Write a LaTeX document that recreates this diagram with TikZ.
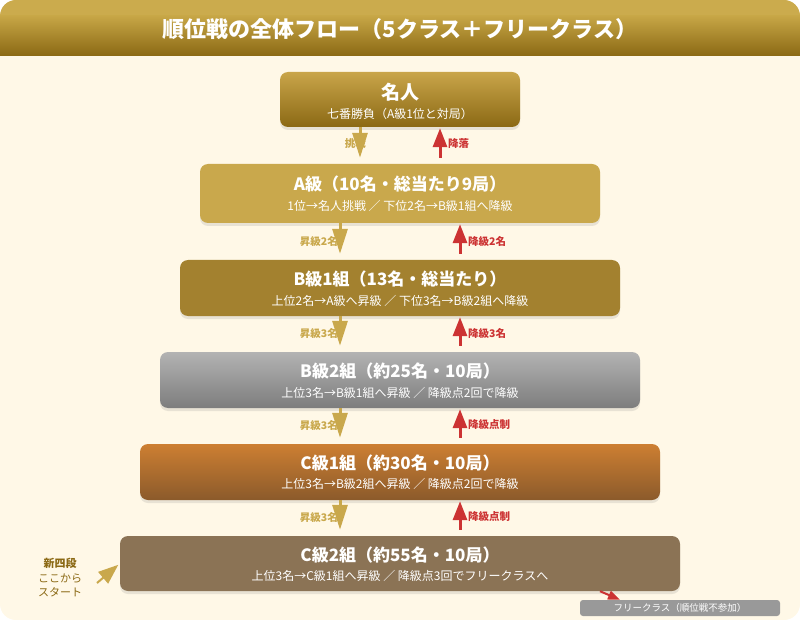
\documentclass[tikz,border=0pt]{standalone}
\usepackage{fontspec}
\setmainfont{Noto Sans CJK JP}
\usetikzlibrary{arrows.meta,shadows}

\definecolor{cream}{HTML}{FFF8E7}
\definecolor{gold}{HTML}{C9A84C}
\definecolor{darkgold}{HTML}{8B6914}
\definecolor{bgold}{HTML}{A3812F}
\definecolor{copper}{HTML}{CD7F32}
\definecolor{saddle}{HTML}{8B5A2B}
\definecolor{cbrown}{HTML}{8B7355}
\definecolor{redarr}{HTML}{CC3333}
\definecolor{freegrey}{HTML}{999999}

\tikzset{
  classbox/.style={rounded corners=8pt, minimum height=56pt, inner sep=0pt,
    drop shadow={opacity=0.18, shadow xshift=0pt, shadow yshift=-3pt}},
  ttl/.style={text=white, inner sep=0pt, font=\fontsize{17}{20}\selectfont\bfseries},
  sub/.style={text=white, inner sep=0pt, font=\fontsize{12}{14}\selectfont},
  promarr/.style={draw=gold, line width=3pt, shorten >=6pt,
    -{Triangle[width=15pt,length=25pt]}},
  demarr/.style={draw=redarr, line width=3pt, shorten <=6pt, shorten >=1pt,
    -{Triangle[width=14pt,length=19pt]}},
  promlbl/.style={text=gold, anchor=east, inner sep=0pt, font=\fontsize{10.5}{12}\selectfont\bfseries},
  demlbl/.style={text=redarr, anchor=west, inner sep=0pt, font=\fontsize{10.5}{12}\selectfont\bfseries}
}

\begin{document}
\begin{tikzpicture}[x=1pt,y=-1pt]
\useasboundingbox (0,0) rectangle (800,620);

% background and title bar
\begin{scope}
  \clip[rounded corners=16pt] (0,0) rectangle (800,620);
  \fill[cream] (0,0) rectangle (800,620);
  \fill[color={rgb,255:red,203;green,171;blue,77}] (0,0) rectangle (800,16);
  \shade[top color={rgb,255:red,199;green,166;blue,70}, bottom color=darkgold] (0,16) rectangle (800,56);
\end{scope}
\node[text=white, font=\fontsize{22}{25}\selectfont\bfseries] (title) at (400,29)
  {順位戦の全体フロー（5クラス＋フリークラス）};

\coordinate (xm) at (360,0);
\coordinate (xn) at (440,0);
\coordinate (xl) at (340,0);
\coordinate (xr) at (460,0);

% class boxes
\node[classbox, minimum width=240pt, minimum height=55pt, top color={rgb,255:red,201;green,165;blue,74}, bottom color=darkgold] (meijin) at (400,99.5) {};
\node[ttl, font=\fontsize{19}{22}\selectfont\bfseries] (meijinT) at ([yshift=7.5pt]meijin.center) {名人};
\node[sub] (meijinS) at ([yshift=-14pt]meijin.center) {七番勝負（A級1位と対局）};

\node[classbox, minimum width=400pt, minimum height=59pt, fill=gold] (aclass) at (400,193.5) {};
\node[ttl] (aclassT) at ([yshift=9pt]aclass.center) {A級（10名・総当たり9局）};
\node[sub] (aclassS) at ([yshift=-12.5pt]aclass.center) {1位→名人挑戦 ／ 下位2名→B級1組へ降級};

\node[classbox, minimum width=440pt, fill=bgold] (bone) at (400,288) {};
\node[ttl] (boneT) at ([yshift=8.5pt]bone.center) {B級1組（13名・総当たり）};
\node[sub] (boneS) at ([yshift=-12.5pt]bone.center) {上位2名→A級へ昇級 ／ 下位3名→B級2組へ降級};

\node[classbox, minimum width=480pt, top color={rgb,255:red,179;green,179;blue,179}, bottom color={rgb,255:red,125;green,125;blue,125}] (btwo) at (400,380) {};
\node[ttl] (btwoT) at ([yshift=8.5pt]btwo.center) {B級2組（約25名・10局）};
\node[sub] (btwoS) at ([yshift=-12.5pt]btwo.center) {上位3名→B級1組へ昇級 ／ 降級点2回で降級};

\node[classbox, minimum width=520pt, top color=copper, bottom color=saddle] (cone) at (400,472) {};
\node[ttl] (coneT) at ([yshift=8.5pt]cone.center) {C級1組（約30名・10局）};
\node[sub] (coneS) at ([yshift=-12pt]cone.center) {上位3名→B級2組へ昇級 ／ 降級点2回で降級};

\node[classbox, minimum width=560pt, minimum height=55pt, fill=cbrown] (ctwo) at (400,563.5) {};
\node[ttl] (ctwoT) at ([yshift=8pt]ctwo.center) {C級2組（約55名・10局）};
\node[sub] (ctwoS) at ([yshift=-12.5pt]ctwo.center) {上位3名→C級1組へ昇級 ／ 降級点3回でフリークラスへ};

\node[rounded corners=3pt, fill=freegrey, minimum width=200pt, minimum height=16pt, inner sep=0pt,
  text=white, font=\fontsize{9.5}{11}\selectfont] (free) at (680,608) {フリークラス（順位戦不参加）};

% arrow labels
\node[promlbl] (l1) at (366,144) {挑戦};
\node[demlbl] (r1) at (448,144) {降落};
\node[promlbl] (l2) at (338,241) {昇級2名};
\node[demlbl] (r2) at (468,241) {降級2名};
\node[promlbl] (l3) at (338,333) {昇級3名};
\node[demlbl] (r3) at (468,333) {降級3名};
\node[promlbl] (l4) at (338,425) {昇級3名};
\node[demlbl] (r4) at (468,425) {降級点制};
\node[promlbl] (l5) at (338,517) {昇級3名};
\node[demlbl] (r5) at (468,517) {降級点制};

% arrows between classes
\draw[promarr] (meijin.south -| xm) -- (aclass.north -| xm);
\draw[demarr] (aclass.north -| xn) -- (meijin.south -| xn);
\draw[promarr] (aclass.south -| xl) -- (bone.north -| xl);
\draw[demarr] (bone.north -| xr) -- (aclass.south -| xr);
\draw[promarr] (bone.south -| xl) -- (btwo.north -| xl);
\draw[demarr] (btwo.north -| xr) -- (bone.south -| xr);
\draw[promarr] (btwo.south -| xl) -- (cone.north -| xl);
\draw[demarr] (cone.north -| xr) -- (btwo.south -| xr);
\draw[promarr] (cone.south -| xl) -- (ctwo.north -| xl);
\draw[demarr] (ctwo.north -| xr) -- (cone.south -| xr);

% new entry and free class
\node[align=center, text=darkgold, inner sep=0pt, font=\fontsize{11}{14}\selectfont] (shin) at (60,578)
  {\textbf{新四段}\\[1pt]ここから\\スタート};
\coordinate (st) at (97,583);
\draw[draw=gold, line width=2pt, shorten >=2pt, -{Triangle[width=15pt,length=20pt]}] (st) -- (ctwo.west);
\coordinate (fa) at (600,0);
\coordinate (fb) at (620,0);
\draw[draw=redarr, line width=2pt, -{Triangle[width=9pt,length=12pt]}] (ctwo.south -| fa) -- (free.north -| fb);
\end{tikzpicture}
\end{document}
